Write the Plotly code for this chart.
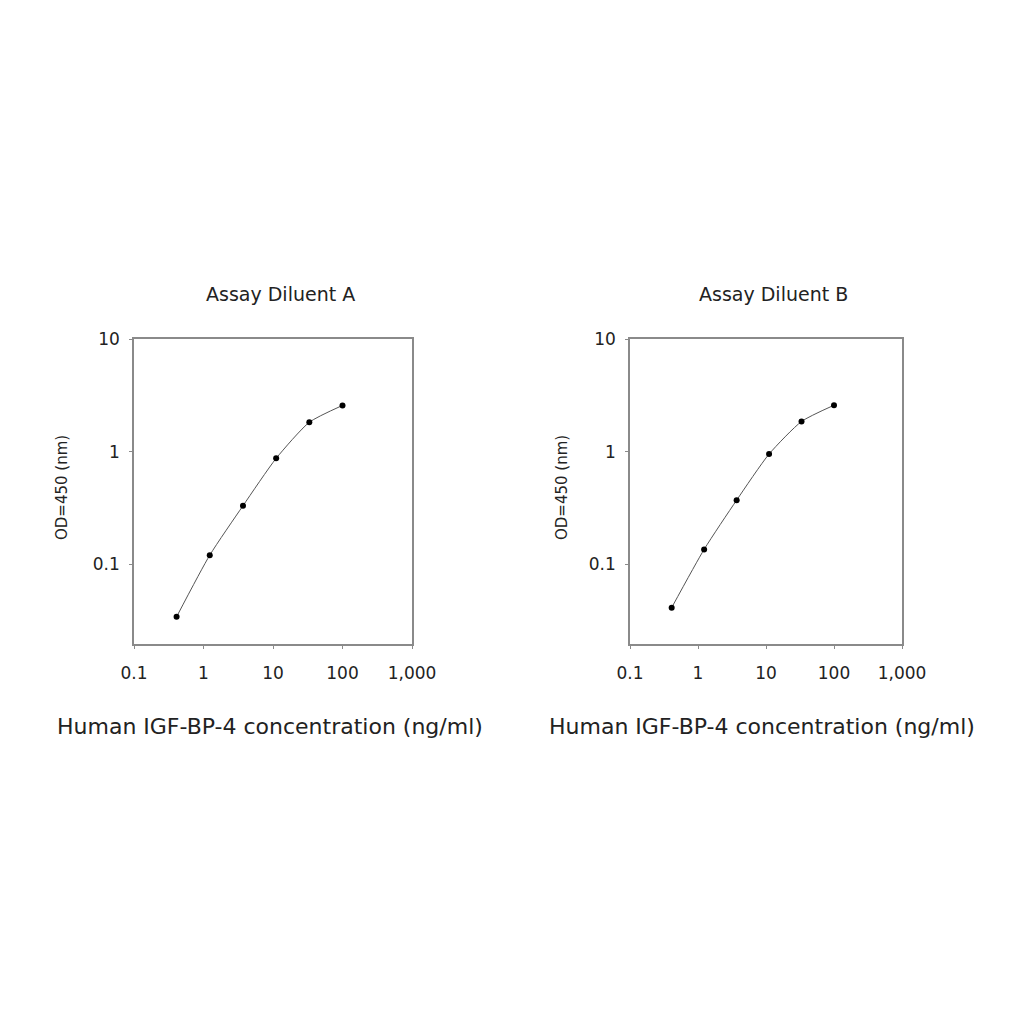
import plotly.graph_objects as go

conc = [0.41, 1.23, 3.7, 11.1, 33.3, 100]
od_a = [0.034, 0.12, 0.33, 0.87, 1.82, 2.57]
od_b = [0.041, 0.135, 0.37, 0.95, 1.85, 2.58]
titles = ["Assay Diluent A", "Assay Diluent B"]
x_tickvals = [0.1, 1, 10, 100, 1000]
x_ticktext = ["0.1", "1", "10", "100", "1,000"]
y_tickvals = [0.1, 1, 10]
y_ticktext = ["0.1", "1", "10"]
x_title = "Human IGF-BP-4 concentration (ng/ml)"
y_title = "OD=450 (nm)"

FONT = "DejaVu Sans, Verdana, sans-serif"
OFF = 8  # page body margin offset in px


def px_x(p):
    return (p - OFF) / 1024


def px_y(p):
    return 1 - (p - OFF) / 1024


fig = go.Figure()
series = [od_a, od_b]
doms_x = [(px_x(134), px_x(412)), (px_x(630), px_x(902))]
dom_y = (px_y(644), px_y(339))

for i, ys in enumerate(series):
    xa = "x" if i == 0 else "x2"
    ya = "y" if i == 0 else "y2"
    fig.add_trace(go.Scatter(
        x=conc, y=ys, xaxis=xa, yaxis=ya, mode="lines+markers",
        line=dict(color="#555555", width=1, shape="spline", smoothing=0.6),
        marker=dict(color="black", size=6), showlegend=False))

axis_common = dict(showgrid=False, zeroline=False, showline=True, mirror=True,
                   linecolor="#8a8a8a", linewidth=1.5, ticks="outside", ticklen=3,
                   tickcolor="#8a8a8a", tickfont=dict(family=FONT, size=17, color="#222"))

layout = dict(width=1024, height=1024, paper_bgcolor="white", plot_bgcolor="white",
              margin=dict(l=0, r=0, t=0, b=0, autoexpand=False))
for i in range(2):
    sx = "" if i == 0 else "2"
    layout["xaxis" + sx] = dict(type="log", range=[-1, 3], domain=doms_x[i],
                                tickvals=x_tickvals, ticktext=x_ticktext,
                                anchor="y" + sx, ticklabelstandoff=10, **axis_common)
    layout["yaxis" + sx] = dict(type="log", range=[-1.71, 1], domain=dom_y,
                                tickvals=y_tickvals, ticktext=y_ticktext,
                                anchor="x" + sx, ticklabelstandoff=6, **axis_common)
fig.update_layout(**layout)

ann = []
title_x = [280, 773]
xtitle_x = [270, 762]
ytitle_x = [62, 562]
for i in range(2):
    ann.append(dict(text=titles[i], x=px_x(title_x[i]), y=px_y(294), xref="paper", yref="paper",
                    xanchor="center", yanchor="middle", showarrow=False,
                    font=dict(family=FONT, size=19, color="#222")))
    ann.append(dict(text=x_title, x=px_x(xtitle_x[i]), y=px_y(726), xref="paper", yref="paper",
                    xanchor="center", yanchor="middle", showarrow=False,
                    font=dict(family=FONT, size=22, color="#222")))
    ann.append(dict(text=y_title, x=px_x(ytitle_x[i]), y=px_y(488), xref="paper", yref="paper",
                    xanchor="center", yanchor="middle", showarrow=False, textangle=-90,
                    font=dict(family=FONT, size=15, color="#222")))
fig.update_layout(annotations=ann)

fig.write_html("out.html")
